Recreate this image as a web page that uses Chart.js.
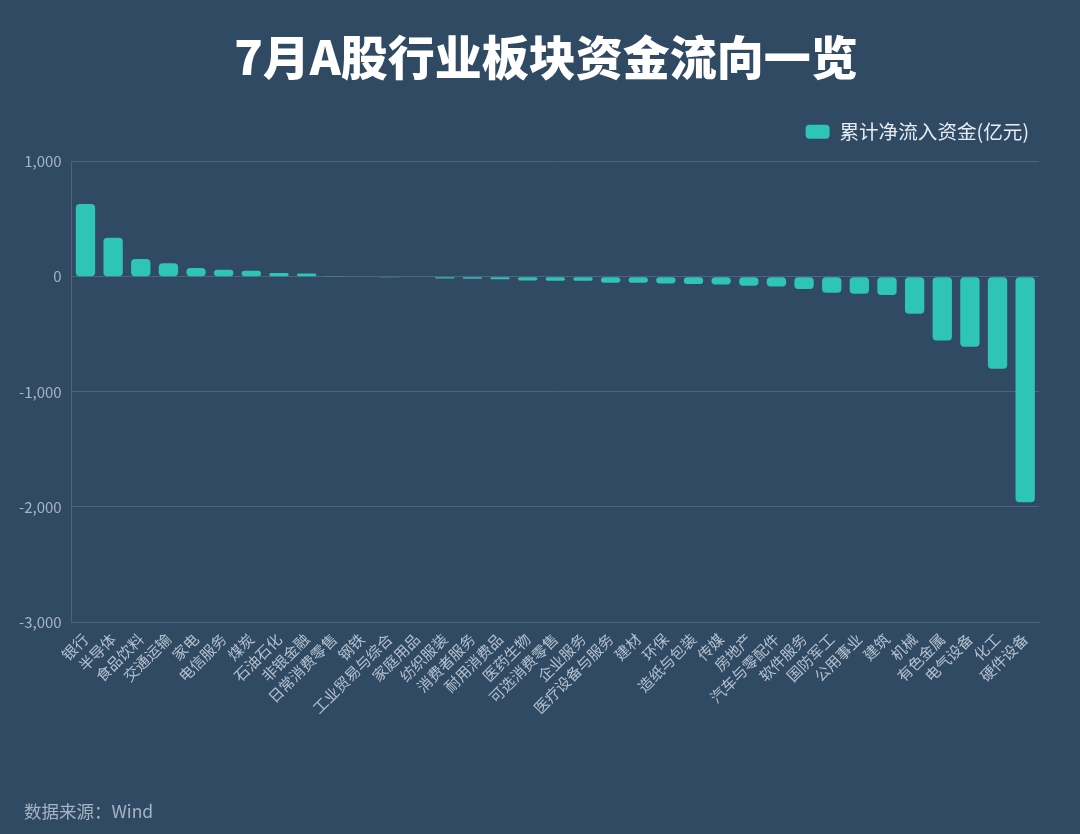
<!DOCTYPE html>
<html>
<head>
<meta charset="utf-8">
<script src="https://cdn.jsdelivr.net/npm/chart.js@4.4.0/dist/chart.umd.min.js"></script>
<style>
  html, body { margin: 0; padding: 0; background: #304a63; }
  #wrap { position: relative; width: 1080px; height: 834px; background: #304a63; overflow: hidden; }
  #c { position: absolute; left: 0; top: 0; }
  #title { position: absolute; left: 0; width: 1092px; top: 27px; line-height: 56px; text-align: center; font-family: "Noto Sans CJK SC", "Noto Sans", sans-serif; font-size: 47px; font-weight: 900; color: #ffffff; white-space: nowrap; }
  #src { position: absolute; left: 24px; top: 798px; font-family: "Noto Sans CJK SC", "Noto Sans", sans-serif; font-size: 17.5px; color: #a6b4c4; }
</style>
</head>
<body>
<div id="wrap">
  <canvas id="c" width="1080" height="834"></canvas>
  <div id="title"></div>
  <div id="src">数据来源：Wind</div>
</div>
<script>
const categories = ["银行","半导体","食品饮料","交通运输","家电","电信服务","煤炭","石油石化","非银金融","日常消费零售","钢铁","工业贸易与综合","家庭用品","纺织服装","消费者服务","耐用消费品","医药生物","可选消费零售","企业服务","医疗设备与服务","建材","环保","造纸与包装","传媒","房地产","汽车与零配件","软件服务","国防军工","公用事业","建筑","机械","有色金属","电气设备","化工","硬件设备"];
const netInflow = [632, 338, 154, 116, 76, 61, 52, 32, 28, 7, 3, -3, -5, -15, -18, -22, -32, -35, -35, -52, -52, -58, -64, -67, -78, -84, -107, -139, -148, -159, -322, -554, -609, -800, -1959];
const seriesName = "累计净流入资金(亿元)";
const chartTitle = "7月A股行业板块资金流向一览";
const yTicks = [1000, 0, -1000, -2000, -3000];

document.getElementById('title').textContent = chartTitle;

const font = '"Noto Sans CJK SC", "Noto Sans", sans-serif';

const legendSpacer = {
  id: 'legendSpacer',
  beforeUpdate(chart) {
    const lg = chart.legend;
    if (lg && !lg._spaced) {
      const f = lg.fit;
      lg.fit = function () { f.call(this); this.height += 10; };
      lg._spaced = true;
    }
  }
};

const ctx = document.getElementById('c');
new Chart(ctx, {
  type: 'bar',
  data: {
    labels: categories,
    datasets: [{
      label: seriesName,
      data: netInflow,
      backgroundColor: '#2ec4b6',
      borderRadius: 4,
      borderSkipped: false,
      barPercentage: 0.7,
      categoryPercentage: 1.0
    }]
  },
  plugins: [legendSpacer],
  options: {
    responsive: false,
    animation: false,
    devicePixelRatio: 1,
    layout: { padding: { left: 9, right: 41, top: 112, bottom: 117 } },
    plugins: {
      title: { display: false },
      legend: {
        display: true,
        position: 'top',
        align: 'end',
        labels: {
          color: '#e6ecf2',
          font: { family: font, size: 19.6 },
          boxWidth: 24,
          boxHeight: 14,
          useBorderRadius: true,
          borderRadius: 4,
          padding: 10
        }
      },
      tooltip: { enabled: false }
    },
    scales: {
      x: {
        grid: { display: false },
        border: { display: true, color: '#4d657c' },
        ticks: {
          color: '#b3c0ce',
          font: { family: font, size: 15 },
          minRotation: 45,
          maxRotation: 45,
          autoSkip: false,
          padding: 0
        }
      },
      y: {
        min: Math.min(...yTicks),
        max: Math.max(...yTicks),
        afterBuildTicks: (axis) => { axis.ticks = yTicks.map(v => ({ value: v })); },
        grid: { color: '#4d657c', drawTicks: false, lineWidth: 1 },
        border: { display: true, color: '#4d657c' },
        ticks: {
          color: '#a6b4c4',
          font: { family: font, size: 15 },
          padding: 10,
          callback: (v) => Number(v).toLocaleString('en-US')
        }
      }
    }
  }
});
</script>
</body>
</html>
